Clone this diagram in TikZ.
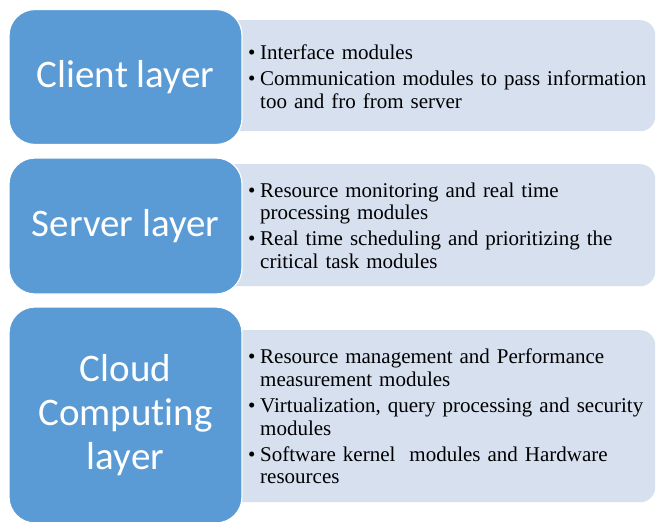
\documentclass[tikz,border=0pt]{standalone}
\usepackage{fontspec}
\setmainfont{Liberation Serif}
\newfontfamily\layerfont[RawFeature=-liga]{Carlito}
\definecolor{layerblue}{HTML}{5B9BD5}
\definecolor{notefill}{HTML}{D6E0EF}
\newcommand{\bitem}{\par\hangindent=12pt\hangafter=1\noindent\makebox[12pt][l]{\textbullet}}
\tikzset{
        layer/.style={fill=layerblue, draw=white, line width=1.2pt, rounded corners=26pt,
                text=white, font=\layerfont\fontsize{39}{44}\selectfont, align=center,
                inner sep=0pt, minimum width=233pt},
        notebox/.style={fill=notefill, rounded corners=15pt,
                inner sep=0pt, minimum width=455pt, anchor=north west},
        bullets/.style={anchor=west, inner sep=0pt, text width=400pt, align=left,
                font=\fontsize{21}{22.6}\selectfont\setlength{\parskip}{3.5pt}}
}
\begin{document}
\begin{tikzpicture}[x=1pt, y=-1pt]
        \useasboundingbox[fill=white] (0,0) rectangle (656,522);

        \node[notebox, minimum height=111pt] (clientnotes) at (200,20) {};
        \node[notebox, minimum height=122pt] (servernotes) at (200,164) {};
        \node[notebox, minimum height=172pt] (cloudnotes) at (200,330) {};

        \node[layer, minimum height=135pt] (client) at (125.5,77) {Client layer};
        \node[layer, minimum height=136pt] (server) at (125.5,226) {Server layer};
        \node[layer, minimum height=216pt] (cloud) at (125.5,415) {Cloud\\Computing\\layer};

        \node[bullets] (clienttext) at (248,71) {\bitem Interface modules
                \bitem Communication modules to pass information\newline too and fro from server\par};
        \node[bullets] (servertext) at (248,220) {\bitem Resource monitoring and real time\newline processing modules
                \bitem Real time scheduling and prioritizing the\newline critical task modules\par};
        \node[bullets] (cloudtext) at (248,411) {\bitem Resource management and Performance\newline measurement modules
                \bitem Virtualization, query processing and security\newline modules
                \bitem Software kernel\ \ modules and Hardware\newline resources\par};
\end{tikzpicture}
\end{document}
